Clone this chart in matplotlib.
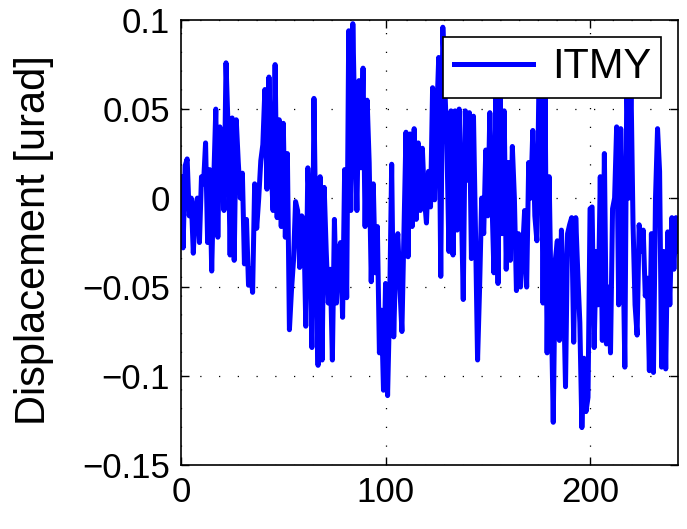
import numpy as np
import matplotlib
matplotlib.use("Agg")
import matplotlib.pyplot as plt

plt.rcParams['font.family'] = ['Liberation Sans', 'DejaVu Sans']

# ITMY pitch displacement, one sample per time step
itmy = [
    0.012, -0.028, 0.018, 0.022, -0.010, 0.000, -0.031, -0.005, 0.000, -0.025,
    0.012, 0.008, 0.031, -0.025, 0.016, -0.041, 0.010, 0.050, -0.022, 0.040,
    0.025, -0.007, 0.076, 0.040, -0.032, 0.045, -0.035, 0.044, 0.020, 0.000,
    0.014, -0.037, -0.012, -0.049, -0.040, -0.053, 0.008, -0.017, 0.000, 0.021,
    0.030, 0.061, 0.005, 0.068, 0.020, -0.007, 0.075, -0.011, 0.044, -0.016,
    0.042, -0.022, 0.025, -0.074, -0.052, -0.035, -0.002, -0.007, -0.039, -0.010,
    -0.012, -0.072, 0.017, -0.010, -0.084, 0.056, -0.030, -0.094, 0.012, -0.091,
    0.006, -0.030, -0.059, -0.040, -0.091, -0.012, -0.059, -0.030, -0.025, -0.067,
    0.016, -0.056, 0.094, -0.007, 0.098, 0.040, -0.007, 0.066, 0.017, 0.073,
    -0.016, 0.055, 0.020, -0.047, 0.008, -0.042, -0.016, -0.087, -0.063, -0.108,
    -0.048, -0.111, -0.060, 0.019, -0.078, -0.033, -0.020, -0.050, -0.075, -0.020,
    0.037, -0.033, 0.036, -0.016, 0.039, -0.012, 0.031, -0.007, 0.028, 0.000,
    -0.014, 0.015, -0.005, 0.062, -0.001, 0.045, 0.079, -0.044, 0.096, 0.062,
    0.030, -0.030, 0.049, -0.032, 0.049, -0.018, 0.050, 0.000, -0.057, 0.049,
    0.010, 0.048, -0.034, 0.046, -0.020, -0.091, -0.050, 0.000, -0.020, 0.027,
    -0.010, 0.048, 0.000, -0.042, 0.065, -0.048, 0.060, -0.020, 0.049, -0.040,
    0.020, -0.035, 0.029, 0.000, -0.052, -0.020, -0.050, -0.030, -0.007, -0.050,
    0.020, 0.000, 0.038, -0.010, -0.024, 0.065, 0.070, -0.059, 0.060, -0.087,
    0.012, -0.060, -0.126, -0.035, -0.024, -0.080, -0.018, -0.050, -0.106, -0.020,
    -0.015, -0.011, -0.081, -0.011, -0.042, -0.070, -0.129, -0.090, -0.120, -0.112,
    -0.006, -0.005, -0.084, -0.030, -0.060, 0.012, -0.080, 0.025, -0.082, -0.050,
    -0.087, -0.006, 0.000, 0.040, -0.060, 0.039, -0.020, -0.095, 0.070, 0.000,
    0.065, -0.014, -0.060, -0.077, -0.015, -0.030, -0.018, -0.055, -0.045, -0.097,
    -0.020, -0.098, 0.000, 0.039, 0.015, -0.095, -0.030, -0.096, -0.019, -0.060,
    -0.011, -0.040, -0.011, -0.030,
]
t = np.arange(len(itmy))

x_ticks = [0, 100, 200]
y_ticks = [-0.15, -0.1, -0.05, 0, 0.05, 0.1]
y_tick_labels = ['\u22120.15', '\u22120.1', '\u22120.05', '0', '0.05', '0.1']

fig = plt.figure(figsize=(6.87, 5.29), dpi=100)
ax = fig.add_axes([0.2635, 0.121, 0.7234, 0.841])

ax.plot(t, itmy, color='#0000ff', linewidth=3.6, label='ITMY',
        solid_joinstyle='round')

ax.set_xlim(0, 243)
ax.set_ylim(-0.15, 0.1)
ax.set_xticks(x_ticks)
ax.set_yticks(y_ticks)
ax.set_yticklabels(y_tick_labels)
ax.tick_params(direction='in', length=6, width=1, labelsize=25,
               top=True, right=True, pad=8)
ax.grid(True, color='black', linestyle=(0, (1, 14)), linewidth=0.9)
for s in ax.spines.values():
    s.set_linewidth(1.2)

ax.set_ylabel('Displacement [urad]', fontsize=30)
ax.yaxis.set_label_coords(-0.255, 0.505)

leg = ax.legend(loc='upper right', fontsize=30, frameon=True, fancybox=False,
                edgecolor='black', framealpha=1, handlelength=1.9,
                borderpad=0.25, handletextpad=0.45, borderaxespad=0.4)
leg.get_frame().set_linewidth(1.2)

fig.savefig('out.png', dpi=100)
